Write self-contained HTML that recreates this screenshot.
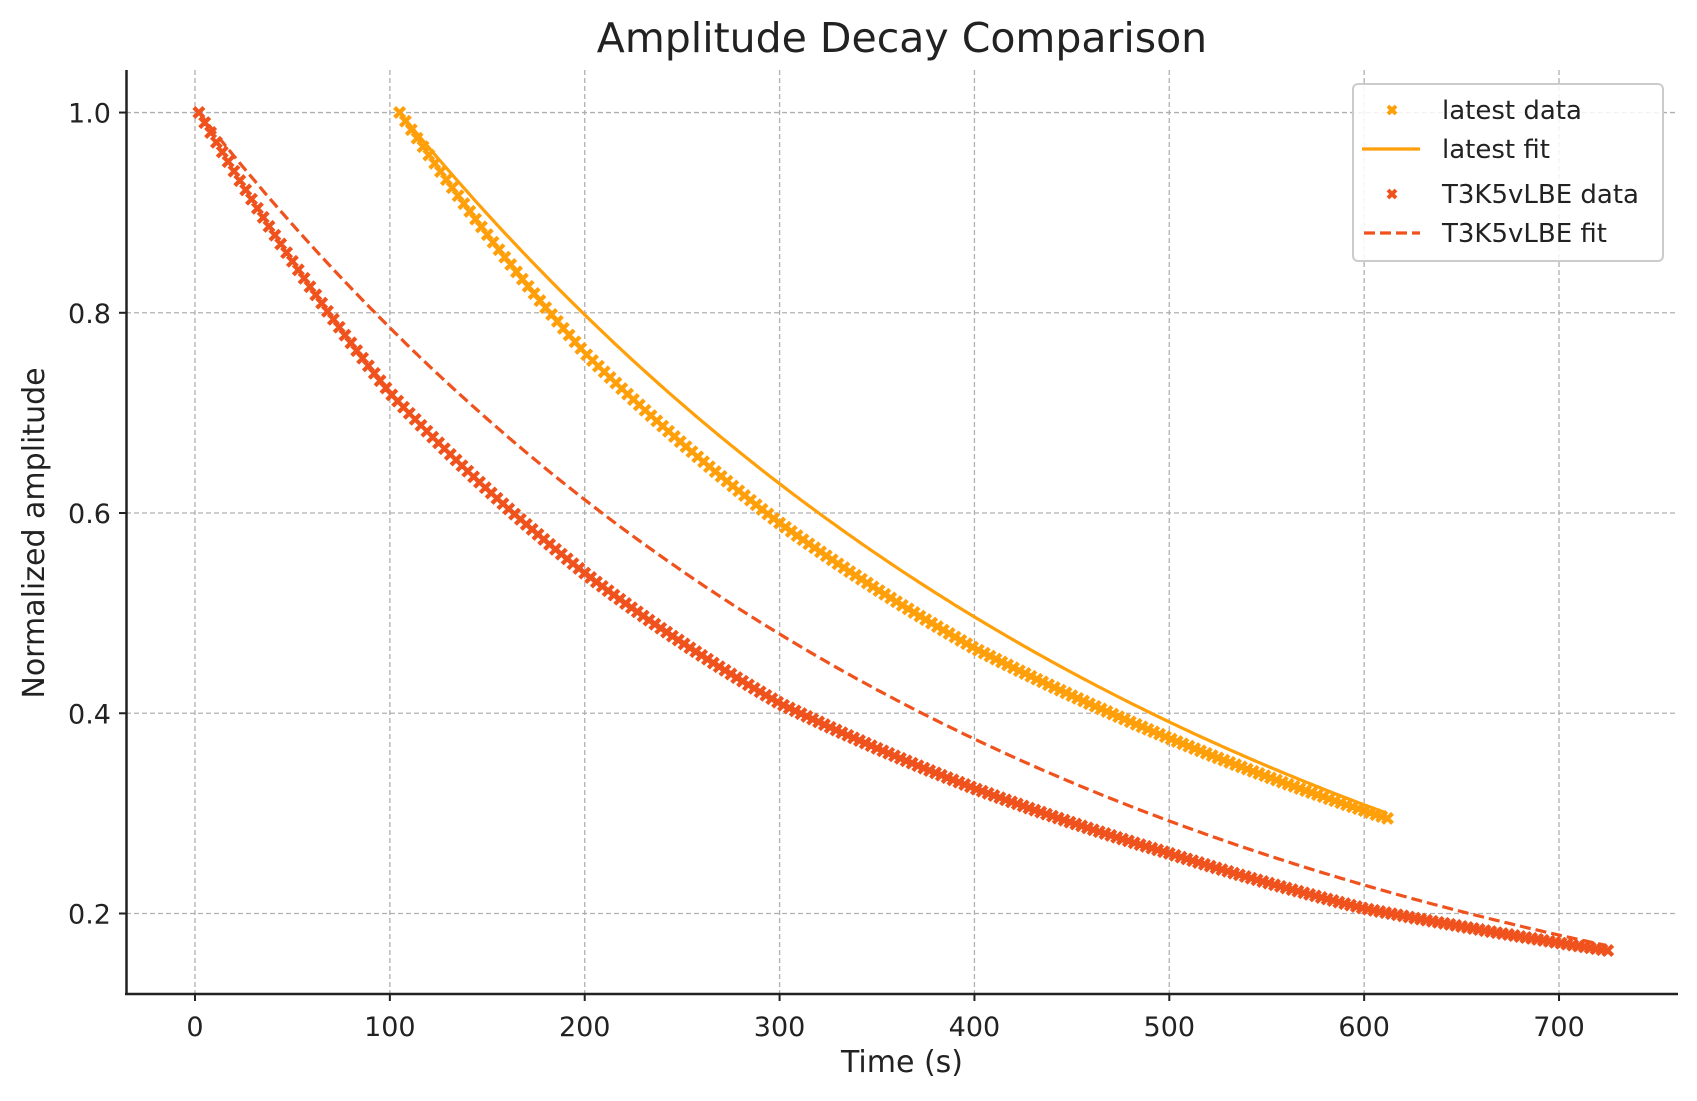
<!DOCTYPE html>
<html><head><meta charset="utf-8"><style>
html,body{margin:0;padding:0;background:#fff}
svg{display:block;font-family:"DejaVu Sans","Liberation Sans",sans-serif}
</style></head><body>
<svg id="s" width="1697" height="1101" xmlns="http://www.w3.org/2000/svg">
<rect width="1697" height="1101" fill="#fff"/>
<g id="grid" stroke="#b0b0b0" stroke-width="1.3" stroke-dasharray="5,3"></g>
<g id="plot"></g>
<line x1="126.5" y1="70" x2="126.5" y2="994" stroke="#222" stroke-width="2.5"/>
<line x1="125" y1="994" x2="1678" y2="994" stroke="#222" stroke-width="2.5"/>
<g id="ticks" fill="#222" font-size="27"></g>
<text x="902" y="52" font-size="41" text-anchor="middle" fill="#222">Amplitude Decay Comparison</text>
<text x="902" y="1072" font-size="30" text-anchor="middle" fill="#222">Time (s)</text>
<text transform="translate(44,533) rotate(-90)" font-size="30" text-anchor="middle" fill="#222">Normalized amplitude</text>
<g>
<rect x="1353" y="84" width="310" height="177" rx="5" fill="#fff" fill-opacity="0.85" stroke="#ccc" stroke-width="2"/>
<g transform="translate(1392,110)" stroke="#ff9f0a" stroke-width="4"><line x1="-4" y1="-4" x2="4" y2="4"/><line x1="-4" y1="4" x2="4" y2="-4"/></g>
<line x1="1362" y1="149" x2="1420" y2="149" stroke="#ff9f0a" stroke-width="3.2"/>
<g transform="translate(1392,194)" stroke="#f0521e" stroke-width="4"><line x1="-4" y1="-4" x2="4" y2="4"/><line x1="-4" y1="4" x2="4" y2="-4"/></g>
<line x1="1364" y1="233" x2="1420" y2="233" stroke="#f0521e" stroke-width="3.2" stroke-dasharray="11,5"/>
<g font-size="26" fill="#222"><text x="1442" y="119">latest data</text><text x="1442" y="158">latest fit</text><text x="1442" y="203">T3K5vLBE data</text><text x="1442" y="242">T3K5vLBE fit</text></g>
</g>
</svg>
<script>
var X=t=>195+t*1.9486, Y=v=>913.5-(v-0.2)*1001.2;
var g=document.getElementById('grid'),tk=document.getElementById('ticks'),p=document.getElementById('plot'),h='',k='';
for(var i=0;i<=7;i++){var x=X(i*100);h+=`<line x1="${x}" y1="70" x2="${x}" y2="994"/>`;k+=`<line x1="${x}" y1="994" x2="${x}" y2="1001" stroke="#222" stroke-width="2"/><text x="${x}" y="1036" text-anchor="middle">${i*100}</text>`;}
for(var j=1;j<=5;j++){var v=j*0.2,y=Y(v);h+=`<line x1="126" y1="${y}" x2="1678" y2="${y}"/>`;k+=`<line x1="119" y1="${y}" x2="126" y2="${y}" stroke="#222" stroke-width="2"/><text x="111" y="${y+10}" text-anchor="end">${v.toFixed(1)}</text>`;}
g.innerHTML=h;tk.innerHTML=k;
function interp(pts,t){for(var i=0;i<pts.length-1;i++){if(t<=pts[i+1][0]){var a=pts[i],b=pts[i+1];var u=(t-a[0])/(b[0]-a[0]);return Math.exp(Math.log(a[1])*(1-u)+Math.log(b[1])*u);}}return pts[pts.length-1][1];}
var red=[[2,1],[100,0.72],[200,0.54],[300,0.41],[400,0.325],[500,0.26],[600,0.205],[725,0.163]];
var org=[[105,1],[200,0.76],[300,0.59],[400,0.465],[500,0.375],[612,0.295]];
var s='';
function fit(t0,t1,k,col,dash){var d='';for(var t=t0;t<=t1;t+=2){d+=(d?'L':'M')+X(t).toFixed(1)+','+Y(Math.exp(-(t-t0)/k)).toFixed(1);}return `<path d="${d}" fill="none" stroke="${col}" stroke-width="3.2" ${dash?'stroke-dasharray="11,5"':''}/>`;}
function marks(pts,t0,t1,col){var o='';for(var t=t0;t<=t1;t+=3){var x=X(t),y=Y(interp(pts,t));o+=`M${(x-5).toFixed(1)},${(y-5).toFixed(1)}l10,10M${(x-5).toFixed(1)},${(y+5).toFixed(1)}l10,-10`;}return `<path d="${o}" stroke="${col}" stroke-width="4.2" fill="none"/>`;}
s+=marks(red,2,725,'#f0521e');
s+=fit(2,725,405,'#f0521e',true);
s+=marks(org,105,612,'#ff9f0a');
s+=fit(105,612,421,'#ff9f0a',false);
p.innerHTML=s;
</script>
</body></html>
